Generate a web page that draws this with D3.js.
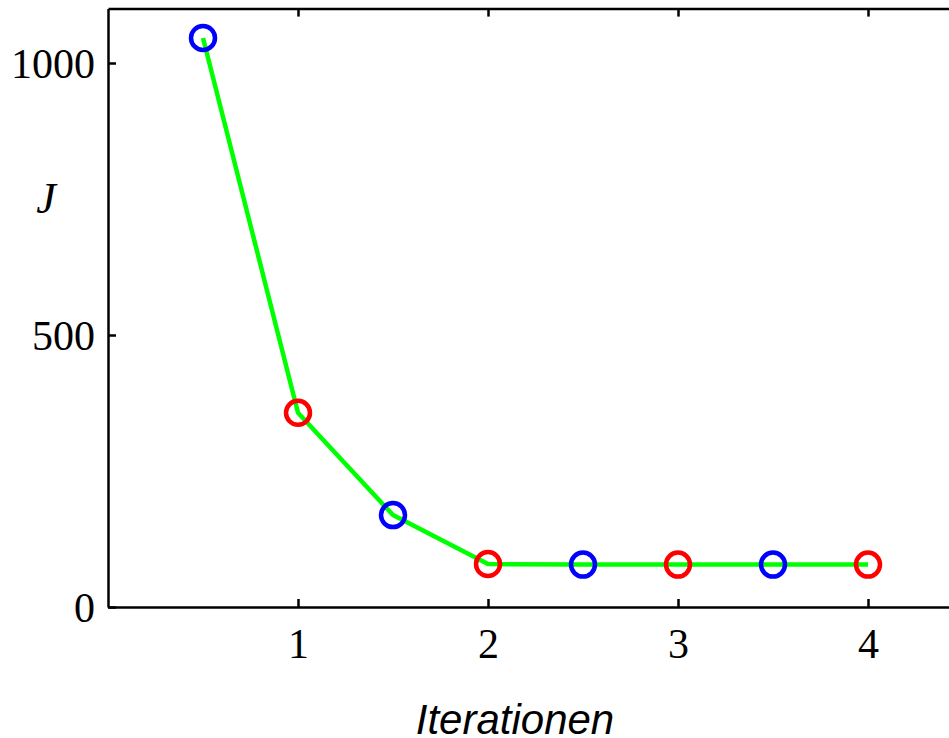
<!DOCTYPE html>
<html>
<head>
<meta charset="utf-8">
<script src="https://cdn.jsdelivr.net/npm/d3@7"></script>
<style>
  body { margin: 0; background: #fff; }
  .tick text { font-family: "Liberation Serif", "Times New Roman", serif; font-size: 42px; fill: #000; }
</style>
</head>
<body>
<div id="chart"></div>
<script>
// Iterationen vs J
var iterations = [0.5, 1, 1.5, 2, 2.5, 3, 3.5, 4];
var costJ = [1046, 357, 169, 79, 78, 78, 78, 78];
var markerColors = ["blue", "red", "blue", "red", "blue", "red", "blue", "red"];
var xTicks = [1, 2, 3, 4];
var yTicks = [0, 500, 1000];

var svgWidth = 949;
var svgHeight = 738;

var svg = d3.select("#chart")
    .append("svg")
    .attr("width", svgWidth)
    .attr("height", svgHeight);

var plotLeft = 108, plotTop = 8.6, plotBottom = 607, plotRight = 963;

var xScale = d3.scaleLinear().domain([0, 4.5]).range([plotLeft, plotRight]);
var yScale = d3.scaleLinear().domain([0, 1100]).range([plotBottom, plotTop]);

var fmt = d3.format("d");

// frame axes, ticks pointing inward
var xAxis = d3.axisBottom(xScale).tickValues(xTicks).tickFormat(fmt).tickSizeInner(-8).tickSizeOuter(0).tickPadding(21);
var yAxis = d3.axisLeft(yScale).tickValues(yTicks).tickFormat(fmt).tickSizeInner(-8).tickSizeOuter(0).tickPadding(13);
var xTop = d3.axisTop(xScale).tickValues(xTicks).tickSizeInner(-8).tickSizeOuter(0).tickFormat("");
var yRight = d3.axisRight(yScale).tickValues(yTicks).tickSizeInner(-8).tickSizeOuter(0).tickFormat("");

function styleAxis(g) {
    g.selectAll("path").attr("stroke", "#000").attr("stroke-width", 2.5);
    g.selectAll("line").attr("stroke", "#000").attr("stroke-width", 2.5);
}

svg.append("g").attr("transform", `translate(0, ${plotBottom})`).call(xAxis).call(styleAxis)
    .selectAll("text").attr("dy", "0.71em");
svg.append("g").attr("transform", `translate(${plotLeft}, 0)`).call(yAxis).call(styleAxis)
    .selectAll("text").attr("dy", "0.34em");
svg.append("g").attr("transform", `translate(0, ${plotTop})`).call(xTop).call(styleAxis);
svg.append("g").attr("transform", `translate(${plotRight}, 0)`).call(yRight).call(styleAxis);

var pts = iterations.map((x, i) => ({x: x, y: costJ[i], c: markerColors[i]}));

var line = d3.line()
    .x(d => xScale(d.x))
    .y(d => yScale(d.y));

svg.append("path")
    .datum(pts)
    .attr("d", line)
    .attr("fill", "none")
    .attr("stroke", "#00ff00")
    .attr("stroke-width", 4.5)
    .attr("stroke-linejoin", "round");

svg.selectAll("circle.pt")
    .data(pts)
    .enter()
    .append("circle")
    .attr("class", "pt")
    .attr("cx", d => xScale(d.x))
    .attr("cy", d => yScale(d.y))
    .attr("r", 12)
    .attr("fill", "none")
    .attr("stroke", d => d.c)
    .attr("stroke-width", 4.5);

// axis labels
svg.append("text")
    .attr("x", 46)
    .attr("y", 213)
    .attr("text-anchor", "middle")
    .style("font-family", "'Liberation Serif', serif")
    .style("font-style", "italic")
    .style("font-size", "44px")
    .text("J");

svg.append("text")
    .attr("x", 515)
    .attr("y", 734)
    .attr("text-anchor", "middle")
    .style("font-family", "'Liberation Sans', Arial, sans-serif")
    .style("font-style", "italic")
    .style("font-size", "42px")
    .text("Iterationen");
</script>
</body>
</html>
